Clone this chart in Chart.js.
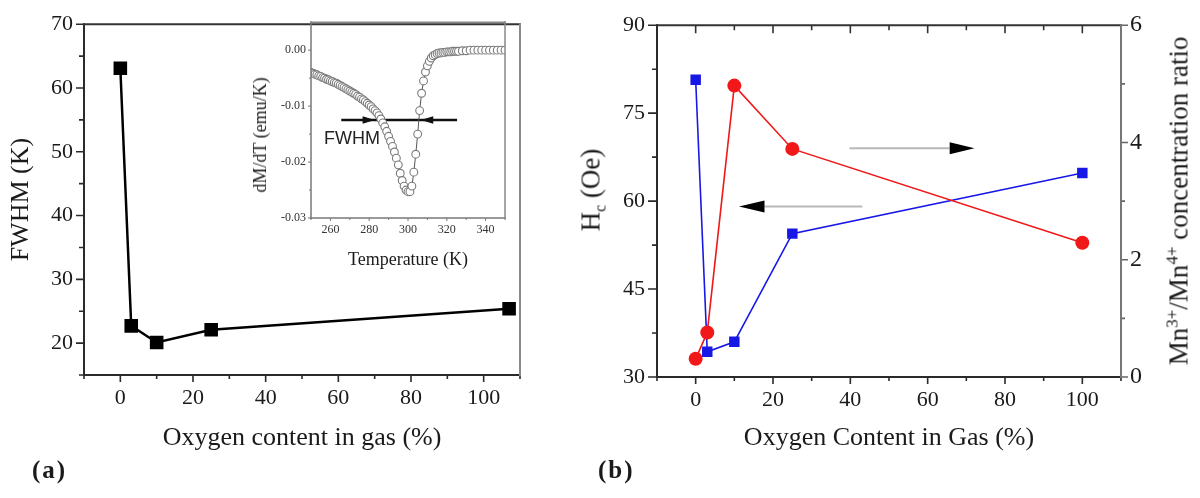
<!DOCTYPE html>
<html>
<head>
<meta charset="utf-8">
<script src="https://cdn.jsdelivr.net/npm/chart.js@4"></script>
<style>
html,body{margin:0;padding:0;background:#fff;}
body{width:1200px;height:498px;overflow:hidden;position:relative;font-family:"Liberation Serif",serif;color:#1a1a1a;}
canvas{position:absolute;}
.rot{position:absolute;width:0;height:0;}
.rot span{position:absolute;left:0;top:0;transform:translate(-50%,-50%) rotate(-90deg);white-space:nowrap;}
.t{position:absolute;white-space:nowrap;}
sup,sub{line-height:0;}
</style>
</head>
<body>
<canvas id="cA" width="560" height="460" style="left:0;top:0"></canvas>
<canvas id="cB" width="620" height="460" style="left:580px;top:0"></canvas>
<canvas id="cI" width="245" height="265" style="left:270px;top:10px"></canvas>

<div class="rot" style="left:260px;top:135px"><span style="font-size:18px;line-height:18px">dM/dT (emu/K)</span></div>
<div class="t" style="left:324px;top:129px;font-family:'Liberation Sans',sans-serif;font-size:18px;line-height:18px;color:#222">FWHM</div>
<div class="rot" style="left:591px;top:190px"><span style="font-size:27px;line-height:27px">H<sub style="font-size:16px">c</sub> (Oe)</span></div>
<div class="rot" style="left:1179px;top:201px"><span style="font-size:27px;line-height:27px">Mn<sup style="font-size:17px">3+</sup>/Mn<sup style="font-size:17px">4+</sup> concentration ratio</span></div>
<div class="t" style="left:32px;top:457px;font-size:25px;line-height:25px;font-weight:bold;letter-spacing:2px">(a)</div>
<div class="t" style="left:598px;top:457px;font-size:25px;line-height:25px;font-weight:bold;letter-spacing:2px">(b)</div>

<script>
// ---------- Panel (a) ----------
const aOxygen = [0, 3, 10, 25, 107];
const aFWHM = [63.1, 22.7, 20.1, 22.1, 25.4];
const aXMajor = [0, 20, 40, 60, 80, 100];
const aXMinor = [-10, 10, 30, 50, 70, 90, 110];
const aYMajor = [20, 30, 40, 50, 60, 70];
const aYMinor = [15, 25, 35, 45, 55, 65];

// ---------- Inset ----------
const insetT = [250,251,252,253,254,255,256,257,258,259,260,261,262,263,264,265,266,267,268,269,270,271,272,273,274,275,276,277,278,279,
  280,281,282,283,284,285,286,287,288,289,290,291,292,293,294,295,296,297,298,299,
  300,301,302,303,304,305,306,307,308,309,310,311,312,313,314,315,316,317,318,319,320,321,322,323,
  324,325,326,328,330,332,334,336,338,340,342,344,346,348,350];
const insetdMdT = [-0.0040,-0.0041,-0.0043,-0.0044,-0.0046,-0.0047,-0.0049,-0.0050,-0.0052,-0.0053,-0.0055,-0.0056,-0.0058,-0.0059,-0.0061,-0.0063,-0.0065,-0.0067,-0.0069,-0.0071,-0.0073,-0.0075,-0.0077,-0.0079,-0.0082,-0.0084,-0.0087,-0.0089,-0.0092,-0.0095,
  -0.0098,-0.0101,-0.0105,-0.0108,-0.0112,-0.0117,-0.0123,-0.0130,-0.0137,-0.0145,-0.0154,-0.0163,-0.0172,-0.0182,-0.0193,-0.0205,-0.0220,-0.0233,-0.0243,-0.0250,
  -0.0253,-0.0253,-0.0243,-0.0218,-0.0186,-0.0150,-0.0108,-0.0077,-0.0055,-0.0039,-0.0028,-0.0020,-0.0014,-0.0010,-0.0008,-0.0006,-0.0005,-0.0005,-0.0004,-0.0004,-0.0003,-0.0003,-0.0003,-0.0002,
  -0.0002,-0.0002,-0.0002,-0.0001,-0.0001,0,0,0,0,0,0,0,0,0,0];
const insetXMajor = [260, 280, 300, 320, 340];
const insetXMinor = [250, 270, 290, 310, 330, 350];
const insetYMajor = [0, -0.01, -0.02, -0.03];
const insetYMinor = [-0.005, -0.015, -0.025];

// ---------- Panel (b) ----------
const bOxygen = [0, 3, 10, 25, 100];
const bHc = [80.7, 34.3, 36.0, 54.45, 64.8];
const bRatio = [0.31, 0.76, 4.97, 3.89, 2.29];
const bXMajor = [0, 20, 40, 60, 80, 100];
const bXMinor = [-10, 10, 30, 50, 70, 90, 110];
const bYMajor = [30, 45, 60, 75, 90];
const bYMinor = [37.5, 52.5, 67.5, 82.5];
const bY2Major = [0, 2, 4, 6];
const bY2Minor = [1, 3, 5];

const SERIF = "'Liberation Serif', 'Times New Roman', serif";
const TXT = '#1a1a1a';

function pts(xs, ys) { return xs.map((x, i) => ({x: x, y: ys[i]})); }
function setTicks(vals) { return s => { s.ticks = vals.map(v => ({value: v})); }; }

const decoPlugin = {
  id: 'deco',
  afterDraw(chart, args, o) {
    const ctx = chart.ctx, a = chart.chartArea;
    ctx.save();
    ctx.lineCap = 'butt';
    (o.ticks || []).forEach(t => {
      const sc = chart.scales[t.scale];
      ctx.strokeStyle = t.color; ctx.lineWidth = t.width;
      ctx.beginPath();
      t.values.forEach(v => {
        const p = sc.getPixelForValue(v);
        if (t.side === 'bottom') { ctx.moveTo(p, a.bottom); ctx.lineTo(p, a.bottom + t.len); }
        if (t.side === 'top') { ctx.moveTo(p, a.top); ctx.lineTo(p, a.top - t.len); }
        if (t.side === 'left') { ctx.moveTo(a.left, p); ctx.lineTo(a.left - t.len, p); }
        if (t.side === 'right') { ctx.moveTo(a.right, p); ctx.lineTo(a.right + t.len, p); }
      });
      ctx.stroke();
    });
    (o.sides || []).forEach(s => {
      ctx.strokeStyle = s.color; ctx.lineWidth = s.width;
      ctx.beginPath();
      if (s.side === 'left') { ctx.moveTo(a.left, a.top - 1); ctx.lineTo(a.left, a.bottom + 1); }
      if (s.side === 'right') { ctx.moveTo(a.right, a.top - 1); ctx.lineTo(a.right, a.bottom + 1); }
      if (s.side === 'top') { ctx.moveTo(a.left - 1, a.top); ctx.lineTo(a.right + 1, a.top); }
      if (s.side === 'bottom') { ctx.moveTo(a.left - 1, a.bottom); ctx.lineTo(a.right + 1, a.bottom); }
      ctx.stroke();
    });
    ctx.restore();
  },
  beforeDatasetsDraw(chart, args, o) {
    const ctx = chart.ctx;
    ctx.save();
    (o.arrows || []).forEach(ar => {
      const xs = chart.scales.x, ys = chart.scales[ar.yScale];
      const y = ys.getPixelForValue(ar.y);
      const x0 = xs.getPixelForValue(ar.from), x1 = xs.getPixelForValue(ar.to);
      ctx.strokeStyle = ar.lineColor; ctx.lineWidth = ar.lineWidth;
      ctx.beginPath(); ctx.moveTo(x0, y); ctx.lineTo(x1, y); ctx.stroke();
      ctx.fillStyle = ar.headColor;
      ar.heads.forEach(h => {
        const xb = xs.getPixelForValue(h.base), xt = xs.getPixelForValue(h.tip);
        ctx.beginPath(); ctx.moveTo(xt, y); ctx.lineTo(xb, y - ar.half); ctx.lineTo(xb, y + ar.half); ctx.closePath(); ctx.fill();
      });
    });
    ctx.restore();
  }
};

function baseOpts() {
  return {
    responsive: false, animation: false, devicePixelRatio: 1,
    plugins: {legend: {display: false}, tooltip: {enabled: false}},
    elements: {line: {tension: 0}}
  };
}

// ----- Chart (a) -----
const optA = baseOpts();
optA.layout = {padding: {top: 15, right: 40, left: 0, bottom: 0}};
optA.scales = {
  x: {type: 'linear', min: -10, max: 110, afterBuildTicks: setTicks(aXMajor), afterFit: s => { s.height = 85; },
      grid: {display: false, drawTicks: false}, border: {display: false},
      ticks: {padding: 10, color: TXT, font: {family: SERIF, size: 22}, maxRotation: 0, autoSkip: false},
      title: {display: true, text: 'Oxygen content in gas (%)', color: TXT, font: {family: SERIF, size: 26}, padding: {top: 0, bottom: 6}}},
  y: {type: 'linear', min: 15, max: 70, afterBuildTicks: setTicks(aYMajor), afterFit: s => { s.width = 84; },
      grid: {display: false, drawTicks: false}, border: {display: false},
      ticks: {padding: 11, color: TXT, font: {family: SERIF, size: 22}, autoSkip: false},
      title: {display: true, text: 'FWHM (K)', color: TXT, font: {family: SERIF, size: 26}, padding: {top: 6, bottom: 0}}}
};
optA.plugins.deco = {
  sides: [
    {side: 'left', color: '#2a2a2a', width: 2},
    {side: 'bottom', color: '#2a2a2a', width: 2},
    {side: 'top', color: '#333', width: 2},
    {side: 'right', color: '#8a8a8a', width: 2}
  ],
  ticks: [
    {scale: 'x', side: 'bottom', values: aXMajor, len: 7, color: '#2a2a2a', width: 1.6},
    {scale: 'x', side: 'bottom', values: aXMinor, len: 4, color: '#2a2a2a', width: 1.6},
    {scale: 'y', side: 'left', values: aYMajor, len: 8, color: '#2a2a2a', width: 1.6},
    {scale: 'y', side: 'left', values: aYMinor, len: 5, color: '#2a2a2a', width: 1.6}
  ]
};
new Chart(document.getElementById('cA'), {
  type: 'scatter',
  data: {datasets: [{
    data: pts(aOxygen, aFWHM), showLine: true, borderColor: '#000', borderWidth: 2.5,
    pointStyle: 'rect', pointRadius: 9.6, pointBackgroundColor: '#000', pointBorderColor: '#000', pointBorderWidth: 0
  }]},
  options: optA,
  plugins: [decoPlugin]
});

// ----- Inset -----
const optI = baseOpts();
optI.layout = {padding: {top: 10, right: 10, left: 0, bottom: 0}};
optI.scales = {
  x: {type: 'linear', min: 250, max: 350, afterBuildTicks: setTicks(insetXMajor), afterFit: s => { s.height = 57; },
      grid: {display: false, drawTicks: false}, border: {display: false},
      ticks: {padding: 5, color: '#333', font: {family: SERIF, size: 12}, maxRotation: 0, autoSkip: false},
      title: {display: true, text: 'Temperature (K)', color: TXT, font: {family: SERIF, size: 18}, padding: {top: 0, bottom: 4}}},
  y: {type: 'linear', min: -0.03, max: 0.005, afterBuildTicks: setTicks(insetYMajor), afterFit: s => { s.width = 41; },
      grid: {display: false, drawTicks: false}, border: {display: false},
      ticks: {padding: 5, color: '#333', font: {family: SERIF, size: 12}, autoSkip: false, callback: v => Number(v).toFixed(2)}}
};
optI.plugins.deco = {
  sides: [
    {side: 'left', color: '#777', width: 1.5},
    {side: 'bottom', color: '#777', width: 1.5},
    {side: 'top', color: '#888', width: 1.5},
    {side: 'right', color: '#888', width: 1.5}
  ],
  ticks: [
    {scale: 'x', side: 'bottom', values: insetXMajor, len: 3, color: '#777', width: 1},
    {scale: 'x', side: 'bottom', values: insetXMinor, len: 2, color: '#777', width: 1},
    {scale: 'y', side: 'left', values: insetYMajor, len: 3, color: '#777', width: 1},
    {scale: 'y', side: 'left', values: insetYMinor, len: 2, color: '#777', width: 1}
  ],
  arrows: [
    {yScale: 'y', y: -0.01247, from: 265.6, to: 325.3, lineColor: '#111', lineWidth: 2.5, headColor: '#111', half: 3.8,
     heads: [{base: 276.6, tip: 282.9}, {base: 313.0, tip: 306.6}]}
  ]
};
new Chart(document.getElementById('cI'), {
  type: 'scatter',
  data: {datasets: [{
    data: pts(insetT, insetdMdT), showLine: true, borderColor: '#555', borderWidth: 1,
    pointStyle: 'circle', pointRadius: 3.9, pointBackgroundColor: '#fff', pointBorderColor: '#7a7a7a', pointBorderWidth: 1.1
  }]},
  options: optI,
  plugins: [decoPlugin]
});

// ----- Chart (b) -----
const BLUE = '#1818e6', RED = '#f01818';
const optB = baseOpts();
optB.layout = {padding: {top: 17, right: 0, left: 0, bottom: 0}};
optB.scales = {
  x: {type: 'linear', min: -10, max: 110, afterBuildTicks: setTicks(bXMajor), afterFit: s => { s.height = 83; },
      grid: {display: false, drawTicks: false}, border: {display: false},
      ticks: {padding: 10, color: TXT, font: {family: SERIF, size: 22}, maxRotation: 0, autoSkip: false},
      title: {display: true, text: 'Oxygen Content in Gas (%)', color: TXT, font: {family: SERIF, size: 26}, padding: {top: 0, bottom: 6}}},
  y: {type: 'linear', position: 'left', min: 30, max: 90, afterBuildTicks: setTicks(bYMajor), afterFit: s => { s.width = 77; },
      grid: {display: false, drawTicks: false}, border: {display: false},
      ticks: {padding: 12, color: TXT, font: {family: SERIF, size: 22}, autoSkip: false}},
  y2: {type: 'linear', position: 'right', min: 0, max: 6, afterBuildTicks: setTicks(bY2Major), afterFit: s => { s.width = 79; },
      grid: {display: false, drawTicks: false}, border: {display: false},
      ticks: {padding: 9, color: TXT, font: {family: SERIF, size: 24}, autoSkip: false}}
};
optB.plugins.deco = {
  sides: [
    {side: 'left', color: '#2a2a2a', width: 2},
    {side: 'bottom', color: '#2a2a2a', width: 2},
    {side: 'top', color: '#333', width: 2},
    {side: 'right', color: '#777', width: 2}
  ],
  ticks: [
    {scale: 'x', side: 'bottom', values: bXMajor, len: 7, color: '#2a2a2a', width: 1.6},
    {scale: 'x', side: 'bottom', values: bXMinor, len: 4, color: '#2a2a2a', width: 1.6},
    {scale: 'x', side: 'top', values: bXMajor, len: -8, color: '#333', width: 1.6},
    {scale: 'x', side: 'top', values: bXMinor, len: -5, color: '#333', width: 1.6},
    {scale: 'y', side: 'left', values: bYMajor, len: 9, color: '#2a2a2a', width: 1.6},
    {scale: 'y', side: 'left', values: bYMinor, len: 5, color: '#2a2a2a', width: 1.6},
    {scale: 'y2', side: 'right', values: bY2Major, len: 7, color: '#666', width: 1.6},
    {scale: 'y2', side: 'right', values: bY2Minor, len: 4, color: '#666', width: 1.6}
  ],
  arrows: [
    {yScale: 'y', y: 59.1, from: 43.1, to: 17.8, lineColor: '#b8b8b8', lineWidth: 2, headColor: '#000', half: 6,
     heads: [{base: 17.8, tip: 11.2}]},
    {yScale: 'y2', y: 3.9, from: 39.8, to: 65.7, lineColor: '#b8b8b8', lineWidth: 2, headColor: '#000', half: 6,
     heads: [{base: 65.7, tip: 72.1}]}
  ]
};
new Chart(document.getElementById('cB'), {
  type: 'scatter',
  data: {datasets: [
    {data: pts(bOxygen, bRatio), yAxisID: 'y2', showLine: true, borderColor: RED, borderWidth: 1.6,
     pointStyle: 'circle', pointRadius: 7, pointBackgroundColor: RED, pointBorderColor: RED, pointBorderWidth: 0},
    {data: pts(bOxygen, bHc), yAxisID: 'y', showLine: true, borderColor: BLUE, borderWidth: 1.6,
     pointStyle: 'rect', pointRadius: 7.4, pointBackgroundColor: BLUE, pointBorderColor: BLUE, pointBorderWidth: 0}
  ]},
  options: optB,
  plugins: [decoPlugin]
});
</script>
</body>
</html>
